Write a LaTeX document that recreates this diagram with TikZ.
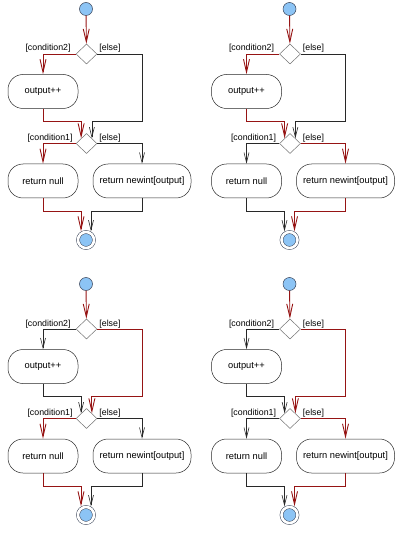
\documentclass[tikz,border=0pt]{standalone}
\usepackage{fontspec}
\setmainfont{Liberation Sans}
\usetikzlibrary{arrows.meta,shapes.geometric}

\definecolor{hotred}{RGB}{150,20,20}
\definecolor{dotblue}{RGB}{140,196,245}
\definecolor{dotedge}{RGB}{55,65,85}
\definecolor{wire}{RGB}{40,40,40}

\tikzset{
  startdot/.style={circle, draw=dotedge, fill=dotblue, line width=0.5pt, minimum size=13pt, inner sep=0pt},
  enddot/.style={circle, draw=dotedge, fill=dotblue, line width=0.5pt, double=white, double distance=2.6pt, minimum size=16pt, inner sep=0pt, outer sep=2pt},
  decision/.style={diamond, draw=gray!90!black, line width=0.5pt, minimum width=21pt, minimum height=20pt, inner sep=0pt},
  action/.style={rectangle, rounded corners=15pt, draw=wire, line width=0.5pt, minimum height=34pt, font=\fontsize{9.3}{11}\selectfont},
  guard/.style={font=\fontsize{8.8}{10}\selectfont, inner sep=1pt},
  flow/.style={draw=wire, line width=0.6pt, -{Straight Barb[length=10pt,width=5pt]}},
  hot/.style={draw=hotred, line width=0.9pt, -{Straight Barb[length=13pt,width=6pt]}},
}

\begin{document}
\begin{tikzpicture}[x=1pt, y=-1pt]
\useasboundingbox (0,0) rectangle (400,537);

% condition2, then condition1
\begin{scope}[shift={(0,0)}]
\node[startdot] (a-start) at (86,9) {};
\node[decision] (a-d1) at (86.5,54) {};
\node[action, minimum width=70pt] (a-inc) at (43,91.5) {output++};
\node[decision] (a-d2) at (86.5,143.5) {};
\node[action, minimum width=70pt] (a-null) at (43,181) {return null};
\node[action, minimum width=98pt] (a-new) at (142,181) {return newint[output]};
\node[enddot] (a-end) at (86,240) {};
\coordinate (a-m1) at (86.5,121);
\coordinate (a-m2) at (86,211);
\node[guard, anchor=base east] at ([xshift=-4pt,yshift=3pt]a-d1.west) {[condition2]};
\node[guard, anchor=base west] at ([xshift=1pt,yshift=3pt]a-d1.east) {[else]};
\node[guard, anchor=base east] at ([xshift=-2pt,yshift=3pt]a-d2.west) {[condition1]};
\node[guard, anchor=base west] at ([xshift=1pt,yshift=3pt]a-d2.east) {[else]};
\draw[hot] (a-start) -- (a-d1);
\draw[hot] (a-d1.west) -| (a-inc);
\draw[hot] (a-inc) -- (a-inc |- a-m1) -| (a-d2.north west);
\draw[flow] (a-d1.east) -| (a-new.north |- a-m1) -| (a-d2.north east);
\draw[hot] (a-d2.west) -| (a-null);
\draw[flow] (a-d2.east) -| (a-new);
\draw[hot] (a-null) -- (a-null |- a-m2) -| (a-end.120);
\draw[flow] (a-new) -- (a-new |- a-m2) -| (a-end.60);
\end{scope}

% condition2, then else
\begin{scope}[shift={(203.5,0)}]
\node[startdot] (b-start) at (86,9) {};
\node[decision] (b-d1) at (86.5,54) {};
\node[action, minimum width=70pt] (b-inc) at (43,91.5) {output++};
\node[decision] (b-d2) at (86.5,143.5) {};
\node[action, minimum width=70pt] (b-null) at (43,181) {return null};
\node[action, minimum width=98pt] (b-new) at (142,181) {return newint[output]};
\node[enddot] (b-end) at (86,240) {};
\coordinate (b-m1) at (86.5,121);
\coordinate (b-m2) at (86,211);
\node[guard, anchor=base east] at ([xshift=-4pt,yshift=3pt]b-d1.west) {[condition2]};
\node[guard, anchor=base west] at ([xshift=1pt,yshift=3pt]b-d1.east) {[else]};
\node[guard, anchor=base east] at ([xshift=-2pt,yshift=3pt]b-d2.west) {[condition1]};
\node[guard, anchor=base west] at ([xshift=1pt,yshift=3pt]b-d2.east) {[else]};
\draw[hot] (b-start) -- (b-d1);
\draw[hot] (b-d1.west) -| (b-inc);
\draw[hot] (b-inc) -- (b-inc |- b-m1) -| (b-d2.north west);
\draw[flow] (b-d1.east) -| (b-new.north |- b-m1) -| (b-d2.north east);
\draw[flow] (b-d2.west) -| (b-null);
\draw[hot] (b-d2.east) -| (b-new);
\draw[flow] (b-null) -- (b-null |- b-m2) -| (b-end.120);
\draw[hot] (b-new) -- (b-new |- b-m2) -| (b-end.60);
\end{scope}

% else, then condition1
\begin{scope}[shift={(0,275)}]
\node[startdot] (c-start) at (86,9) {};
\node[decision] (c-d1) at (86.5,54) {};
\node[action, minimum width=70pt] (c-inc) at (43,91.5) {output++};
\node[decision] (c-d2) at (86.5,143.5) {};
\node[action, minimum width=70pt] (c-null) at (43,181) {return null};
\node[action, minimum width=98pt] (c-new) at (142,181) {return newint[output]};
\node[enddot] (c-end) at (86,240) {};
\coordinate (c-m1) at (86.5,121);
\coordinate (c-m2) at (86,211);
\node[guard, anchor=base east] at ([xshift=-4pt,yshift=3pt]c-d1.west) {[condition2]};
\node[guard, anchor=base west] at ([xshift=1pt,yshift=3pt]c-d1.east) {[else]};
\node[guard, anchor=base east] at ([xshift=-2pt,yshift=3pt]c-d2.west) {[condition1]};
\node[guard, anchor=base west] at ([xshift=1pt,yshift=3pt]c-d2.east) {[else]};
\draw[hot] (c-start) -- (c-d1);
\draw[flow] (c-d1.west) -| (c-inc);
\draw[flow] (c-inc) -- (c-inc |- c-m1) -| (c-d2.north west);
\draw[hot] (c-d1.east) -| (c-new.north |- c-m1) -| (c-d2.north east);
\draw[hot] (c-d2.west) -| (c-null);
\draw[flow] (c-d2.east) -| (c-new);
\draw[hot] (c-null) -- (c-null |- c-m2) -| (c-end.120);
\draw[flow] (c-new) -- (c-new |- c-m2) -| (c-end.60);
\end{scope}

% else, then else
\begin{scope}[shift={(203.5,275)}]
\node[startdot] (d-start) at (86,9) {};
\node[decision] (d-d1) at (86.5,54) {};
\node[action, minimum width=70pt] (d-inc) at (43,91.5) {output++};
\node[decision] (d-d2) at (86.5,143.5) {};
\node[action, minimum width=70pt] (d-null) at (43,181) {return null};
\node[action, minimum width=98pt] (d-new) at (142,181) {return newint[output]};
\node[enddot] (d-end) at (86,240) {};
\coordinate (d-m1) at (86.5,121);
\coordinate (d-m2) at (86,211);
\node[guard, anchor=base east] at ([xshift=-4pt,yshift=3pt]d-d1.west) {[condition2]};
\node[guard, anchor=base west] at ([xshift=1pt,yshift=3pt]d-d1.east) {[else]};
\node[guard, anchor=base east] at ([xshift=-2pt,yshift=3pt]d-d2.west) {[condition1]};
\node[guard, anchor=base west] at ([xshift=1pt,yshift=3pt]d-d2.east) {[else]};
\draw[hot] (d-start) -- (d-d1);
\draw[flow] (d-d1.west) -| (d-inc);
\draw[flow] (d-inc) -- (d-inc |- d-m1) -| (d-d2.north west);
\draw[hot] (d-d1.east) -| (d-new.north |- d-m1) -| (d-d2.north east);
\draw[flow] (d-d2.west) -| (d-null);
\draw[hot] (d-d2.east) -| (d-new);
\draw[flow] (d-null) -- (d-null |- d-m2) -| (d-end.120);
\draw[hot] (d-new) -- (d-new |- d-m2) -| (d-end.60);
\end{scope}

\end{tikzpicture}
\end{document}
